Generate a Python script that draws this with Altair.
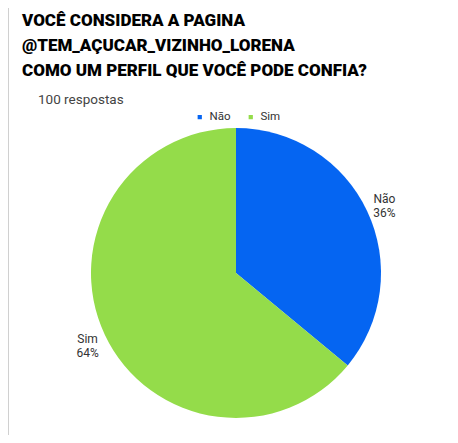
import altair as alt
import pandas as pd

categories = ["Não", "Sim"]
values = [36, 64]
labels = ["Não\n36%", "Sim\n64%"]
order = [0, 1]
colors = ["#0565F2", "#94DC4A"]

title_lines = [
    "VOCÊ CONSIDERA A PAGINA",
    "@TEM_AÇUCAR_VIZINHO_LORENA",
    "COMO UM PERFIL QUE VOCÊ PODE CONFIA?",
]
subtitle = "100 respostas"

df = pd.DataFrame({"cat": categories, "val": values, "lab": labels, "ord": order})

W, H = 442, 337
CX, CY = 228, 175

color = alt.Color(
    "cat:N",
    scale=alt.Scale(domain=categories, range=colors),
    legend=alt.Legend(
        title=None,
        orient="none",
        legendX=186,
        legendY=13,
        direction="horizontal",
        symbolType="square",
        symbolSize=18,
        symbolStrokeWidth=0,
        labelFontSize=11.5,
        labelFont="Roboto",
        labelColor="#333333",
        columnPadding=14,
        labelOffset=4,
    ),
)

base = alt.Chart(df)

pie = base.mark_arc(outerRadius=145, stroke=None).encode(
    theta=alt.Theta("val:Q", stack=True),
    order=alt.Order("ord:Q"),
    color=color,
    x=alt.value(CX),
    y=alt.value(CY),
)

text = base.mark_text(
    radius=164, fontSize=12, font="Roboto", color="#333333",
    lineBreak="\n", align="center", baseline="middle", lineHeight=14, dy=-4,
).encode(
    theta=alt.Theta("val:Q", stack=True),
    order=alt.Order("ord:Q"),
    text="lab:N",
    x=alt.value(CX),
    y=alt.value(CY),
)

sub = alt.Chart(pd.DataFrame({"t": [subtitle]})).mark_text(
    align="left", baseline="middle", fontSize=13.5, font="Roboto", color="#444444"
).encode(text="t:N", x=alt.value(30), y=alt.value(2))

border = alt.Chart(pd.DataFrame({"a": [0]})).mark_rule(
    color="#d0d0d0", strokeWidth=2
).encode(x=alt.value(0), y=alt.value(-90), y2=alt.value(H))

chart = alt.layer(border, pie, text, sub).properties(
    width=W,
    height=H,
    padding={"left": 0, "top": 90, "right": 0, "bottom": 0},
    autosize=alt.AutoSizeParams(type="none"),
    title=alt.TitleParams(
        text=title_lines,
        anchor="start",
        frame="group",
        dx=14,
        dy=87,
        offset=14,
        font="Roboto",
        fontWeight=900,
        fontSize=17,
        lineHeight=25,
        color="#000000",
    ),
).configure_view(stroke=None)

chart.save("out.html", embed_options={"renderer": "svg", "actions": False})
